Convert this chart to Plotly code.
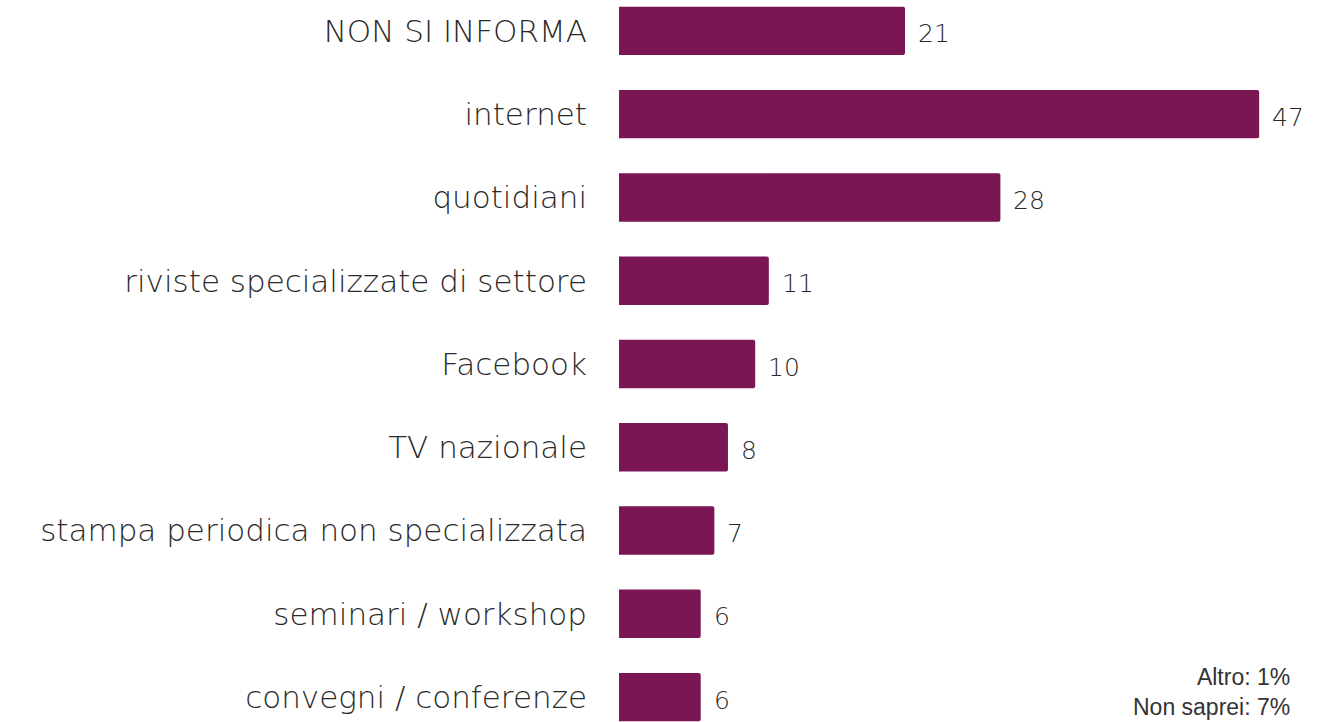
import plotly.graph_objects as go

categories = [
    "NON SI INFORMA",
    "internet",
    "quotidiani",
    "riviste specializzate di settore",
    "Facebook",
    "TV nazionale",
    "stampa periodica non specializzata",
    "seminari / workshop",
    "convegni / conferenze",
]
values = [21, 47, 28, 11, 10, 8, 7, 6, 6]
footnote_lines = ["Altro: 1%", "Non saprei: 7%"]

BAR_COLOR = "#7B1654"
LABEL_FONT = "DejaVu Sans"
TEXT_COLOR = "#2a2a2a"

positions = list(range(len(categories)))

fig = go.Figure()
fig.add_trace(
    go.Bar(
        x=values,
        y=positions,
        orientation="h",
        width=0.58,
        marker=dict(color=BAR_COLOR, cornerradius=2, line=dict(width=0)),
        hoverinfo="x+y",
    )
)

# value labels to the right of each bar
for pos, val in zip(positions, values):
    fig.add_annotation(
        x=val, y=pos, xref="x", yref="y",
        text=str(val), showarrow=False,
        xanchor="left", yanchor="middle",
        xshift=11, yshift=-3,
        font=dict(family=LABEL_FONT, size=25, color=TEXT_COLOR, weight=300),
    )

# footnote in the bottom-right corner
fig.add_annotation(
    x=1.0, y=0.0, xref="paper", yref="paper",
    text="<br>".join(footnote_lines), showarrow=False,
    xanchor="right", yanchor="bottom", align="right",
    xshift=-41, yshift=0,
    font=dict(family="Liberation Sans", size=23, color="#333333"),
)

fig.update_layout(
    width=1333, height=722,
    margin=dict(l=619, r=0, t=0, b=0),
    paper_bgcolor="white", plot_bgcolor="white",
    showlegend=False,
    xaxis=dict(range=[0, 52.42], visible=False, fixedrange=True),
    yaxis=dict(
        range=[8.30, -0.372],
        tickmode="array", tickvals=positions, ticktext=categories,
        showgrid=False, zeroline=False, showline=False, ticks="",
        ticklabelstandoff=31,
        tickfont=dict(family=LABEL_FONT, size=31, color=TEXT_COLOR, weight=300),
    ),
)

fig.write_html("out.html")
